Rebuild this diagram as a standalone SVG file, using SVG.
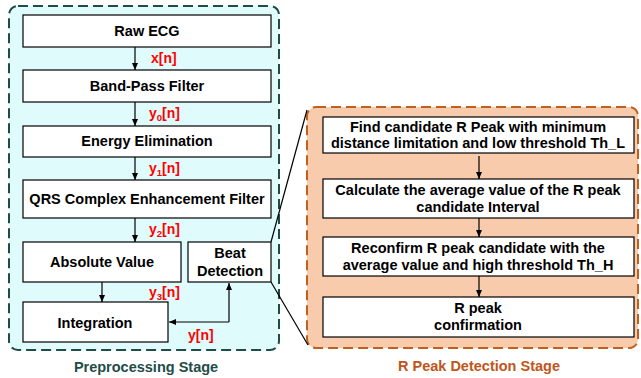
<svg xmlns="http://www.w3.org/2000/svg" width="641" height="378" viewBox="0 0 641 378">
<style>
.box{fill:#fff;stroke:#000;stroke-width:1.2}
.t{font-family:"Liberation Sans",Arial,sans-serif;font-weight:bold;font-size:14.5px;fill:#000;text-anchor:middle}
.lbl{font-family:"Liberation Sans",Arial,sans-serif;font-weight:bold;font-size:14px;fill:#ff0000}
.sub{font-size:9.5px}
.c{stroke:#000;stroke-width:1.2;fill:none}
</style>
<defs>
<marker id="ah" markerWidth="8" markerHeight="8" refX="7" refY="4" orient="auto" markerUnits="userSpaceOnUse">
<path d="M0,1 L7,4 L0,7 z" fill="#000"/>
</marker>
</defs>
<g id="preprocessing-stage">
<rect x="9" y="6" width="270" height="344" rx="9" fill="#dffbfb" stroke="#1e4d47" stroke-width="2" stroke-dasharray="10,5"/>
<text x="146" y="372" font-family="'Liberation Sans',Arial,sans-serif" font-weight="bold" font-size="14.5" fill="#1e4d47" text-anchor="middle">Preprocessing Stage</text>
</g>
<g id="rpeak-stage">
<rect x="307" y="107" width="331" height="241" rx="9" fill="#f8cbad" stroke="#c0601a" stroke-width="2" stroke-dasharray="10,5"/>
<text x="479" y="371" font-family="'Liberation Sans',Arial,sans-serif" font-weight="bold" font-size="14.5" fill="#c0561a" text-anchor="middle">R Peak Detection Stage</text>
</g>
<g id="raw-ecg"><rect class="box" x="23" y="15" width="248" height="32"/><text class="t" x="147" y="36">Raw ECG</text></g>
<g id="band-pass"><rect class="box" x="23" y="70" width="248" height="32"/><text class="t" x="147" y="91">Band-Pass Filter</text></g>
<g id="energy"><rect class="box" x="23" y="126" width="248" height="31"/><text class="t" x="147" y="146">Energy Elimination</text></g>
<g id="qrs"><rect class="box" x="23" y="180" width="248" height="38"/><text class="t" x="147" y="204">QRS Complex Enhancement Filter</text></g>
<g id="absolute"><rect class="box" x="23" y="242" width="158" height="40"/><text class="t" x="102" y="267">Absolute Value</text></g>
<g id="beat"><rect class="box" x="188" y="242" width="83" height="40"/><text class="t" x="230" y="258">Beat</text><text class="t" x="230" y="276">Detection</text></g>
<g id="integration"><rect class="box" x="23" y="302" width="145" height="40"/><text class="t" x="95" y="328">Integration</text></g>
<g id="find"><rect class="box" x="323" y="117" width="311" height="36"/><text class="t" x="478" y="132">Find candidate R Peak with minimum</text><text class="t" x="478" y="148">distance limitation and low threshold Th_L</text></g>
<g id="calc"><rect class="box" x="323" y="179" width="311" height="39"/><text class="t" x="478" y="195">Calculate the average value of the R peak</text><text class="t" x="478" y="212">candidate Interval</text></g>
<g id="reconfirm"><rect class="box" x="323" y="237" width="311" height="39"/><text class="t" x="478" y="253">Reconfirm R peak candidate with the</text><text class="t" x="478" y="270">average value and high threshold Th_H</text></g>
<g id="confirm"><rect class="box" x="323" y="297" width="311" height="40"/><text class="t" x="478" y="313">R peak</text><text class="t" x="478" y="330">confirmation</text></g>
<g id="connectors">
<line class="c" x1="135" y1="47" x2="135" y2="70" marker-end="url(#ah)"/>
<line class="c" x1="135" y1="102" x2="135" y2="126" marker-end="url(#ah)"/>
<line class="c" x1="135" y1="157" x2="135" y2="180" marker-end="url(#ah)"/>
<line class="c" x1="135" y1="218" x2="135" y2="242" marker-end="url(#ah)"/>
<line class="c" x1="102" y1="282" x2="102" y2="302" marker-end="url(#ah)"/>
<polyline class="c" points="229,322 229,283" marker-end="url(#ah)"/>
<polyline class="c" points="229,322 169,322" marker-end="url(#ah)"/>
<line class="c" x1="479" y1="156" x2="479" y2="179" marker-end="url(#ah)"/>
<line class="c" x1="479" y1="218" x2="479" y2="237" marker-end="url(#ah)"/>
<line class="c" x1="479" y1="276" x2="479" y2="297" marker-end="url(#ah)"/>
<line class="c" x1="271" y1="242" x2="307" y2="110"/>
<line class="c" x1="271" y1="282" x2="308" y2="345"/>
<text class="lbl" x="151" y="63">x[n]</text>
<text class="lbl" x="149" y="118">y<tspan class="sub" dy="3">0</tspan><tspan dy="-3">[n]</tspan></text>
<text class="lbl" x="149" y="173">y<tspan class="sub" dy="3">1</tspan><tspan dy="-3">[n]</tspan></text>
<text class="lbl" x="149" y="234">y<tspan class="sub" dy="3">2</tspan><tspan dy="-3">[n]</tspan></text>
<text class="lbl" x="149" y="297">y<tspan class="sub" dy="3">3</tspan><tspan dy="-3">[n]</tspan></text>
<text class="lbl" x="188" y="340">y[n]</text>
</g>
</svg>
